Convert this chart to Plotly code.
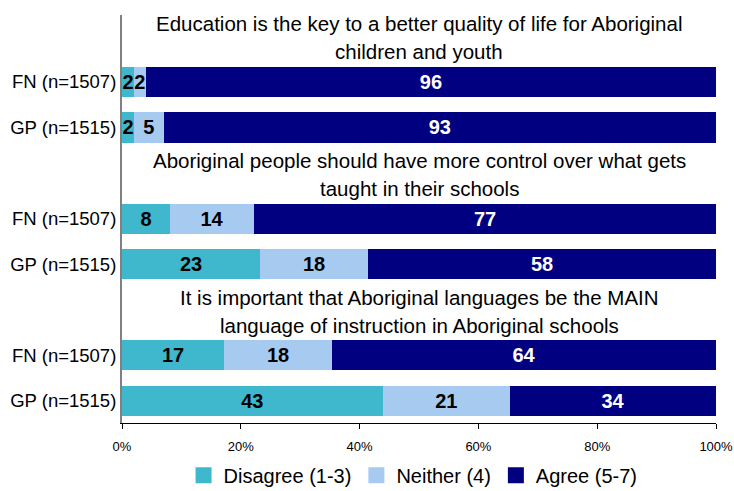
import plotly.graph_objects as go

# Survey statements (two text lines each, shown above their pair of bars)
statements = [
    ["Education is the key to a better quality of life for Aboriginal",
     "children and youth"],
    ["Aboriginal people should have more control over what gets",
     "taught in their schools"],
    ["It is important that Aboriginal languages be the MAIN",
     "language of instruction in Aboriginal schools"],
]
groups = ["FN (n=1507)", "GP (n=1515)"]

# Percent of respondents per statement / group (FN1, GP1, FN2, GP2, FN3, GP3)
disagree = [2, 2, 8, 23, 17, 43]
neither = [2, 5, 14, 18, 18, 21]
agree = [96, 93, 77, 58, 64, 34]

series_names = ["Disagree (1-3)", "Neither (4)", "Agree (5-7)"]
series_colors = ["#3FB8CD", "#A6CAF0", "#000080"]
label_colors = ["#000000", "#000000", "#FFFFFF"]

# Row layout: two bars per statement, statements three rows apart
ROW_STEP = 1.0
GROUP_STEP = 3.0
y_pos = []
y_text = []
for gi in range(len(statements)):
    for ri, g in enumerate(groups):
        y_pos.append(gi * GROUP_STEP + ri * ROW_STEP)
        y_text.append(g)

FONT = "Liberation Sans, Arial, sans-serif"

fig = go.Figure()
for name, vals, col, tcol in zip(series_names, [disagree, neither, agree], series_colors, label_colors):
    fig.add_trace(go.Bar(
        name=name,
        orientation="h",
        x=vals,
        y=y_pos,
        width=0.66,
        marker=dict(color=col, line=dict(width=0)),
        text=[str(v) for v in vals],
        textposition="inside",
        insidetextanchor="middle",
        textangle=0,
        textfont=dict(family=FONT, size=20, color=tcol, weight="bold"),
        hoverinfo="skip",
        showlegend=False,
    ))

# Legend entries with larger square swatches
for name, col in zip(series_names, series_colors):
    fig.add_trace(go.Scatter(
        name=name, x=[None], y=[None], mode="markers",
        marker=dict(symbol="square", size=16, color=col),
        showlegend=True, hoverinfo="skip",
    ))

# Statement titles: two lines above the first bar of each pair
for gi, lines in enumerate(statements):
    for li, (line, shift) in enumerate(zip(lines, [58, 30])):
        fig.add_annotation(
            x=50, xref="x",
            y=gi * GROUP_STEP, yref="y",
            yshift=shift,
            text=line, showarrow=False,
            xanchor="center", yanchor="middle",
            font=dict(family=FONT, size=20.5, color="#000000"),
        )

fig.update_layout(
    barmode="stack",
    barnorm="percent",
    width=734, height=491,
    margin=dict(l=122, r=18, t=15, b=68, autoexpand=False),
    paper_bgcolor="white",
    plot_bgcolor="white",
    uniformtext=dict(minsize=20, mode="show"),
    showlegend=True,
    legend=dict(
        orientation="h",
        x=0.49, xanchor="center",
        y=-0.128, yanchor="middle",
        font=dict(family=FONT, size=20, color="#000000"),
        itemwidth=30,
        traceorder="normal",
    ),
    xaxis=dict(
        range=[0, 100],
        tickvals=[0, 20, 40, 60, 80, 100],
        ticktext=["0%", "20%", "40%", "60%", "80%", "100%"],
        showgrid=False, zeroline=False,
        showline=True, linecolor="#000000", linewidth=1,
        ticks="outside", ticklen=5, tickcolor="#000000",
        ticklabelstandoff=6,
        tickfont=dict(family=FONT, size=13, color="#000000"),
        automargin=False,
        fixedrange=True,
    ),
    yaxis=dict(
        range=[7.49, -1.47],
        tickvals=y_pos,
        ticktext=y_text,
        showgrid=False, zeroline=False,
        showline=True, linecolor="#808080", linewidth=2,
        ticks="",
        ticklabelstandoff=0,
        tickfont=dict(family=FONT, size=18.5, color="#000000"),
        automargin=False,
        fixedrange=True,
    ),
)

fig.write_html("out.html")
